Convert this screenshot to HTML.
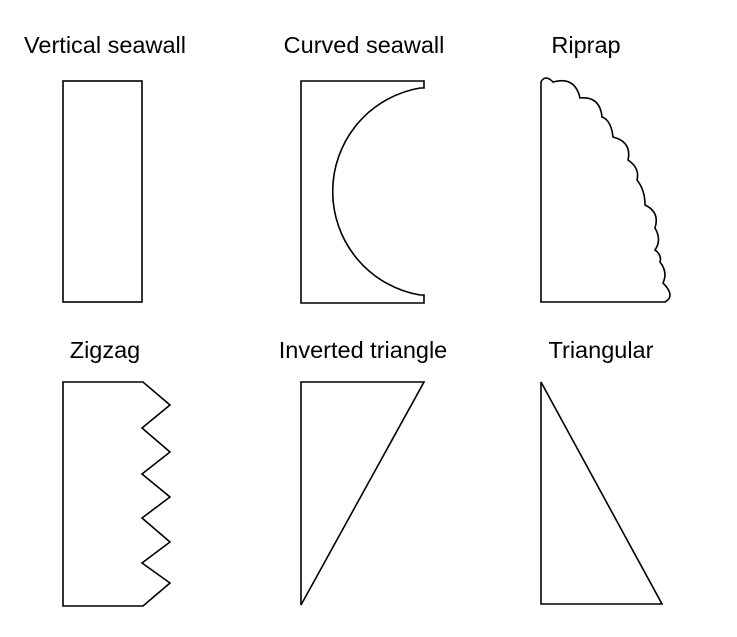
<!DOCTYPE html>
<html><head><style>
html,body{margin:0;padding:0;background:#fff;}
svg{display:block;}
text{font-family:"Liberation Sans",Arial,sans-serif;font-size:23.5px;fill:#000;text-anchor:middle;}
</style></head><body>
<svg width="737" height="637" viewBox="0 0 737 637" xmlns="http://www.w3.org/2000/svg">
<g fill="none" stroke="#000" stroke-width="1.6" stroke-linejoin="miter">
<rect x="63" y="81" width="79" height="221"/>
<path d="M301,81 H424 V88 H420 A105,105 0 0 0 420,295 H424 V303 H301 Z"/>
<path d="M541,302 V82 Q545,74 553,82 Q575,76 580,98 Q600,96 602,117 Q611,120 613,137 Q632,142 628,160 Q640,168 637,180 Q645,190 645,205 Q660,212 655,228 Q662,240 655,250 Q662,255 660,262 Q668,272 663,283 Q676,296 665,302 Z"/>
<path d="M63,382 H143 L170,405 L142,428 L170,452 L142,474 L170,497 L142,518 L170,542 L142,563 L170,583 L143,606 H63 Z"/>
<path d="M301,382 H424 L301,605 Z"/>
<path d="M541,382 L662,604 H541 Z"/>
</g>
<text x="105" y="53">Vertical seawall</text>
<text x="364" y="53">Curved seawall</text>
<text x="586" y="53">Riprap</text>
<text x="105" y="358">Zigzag</text>
<text x="363" y="358">Inverted triangle</text>
<text x="601" y="358">Triangular</text>
</svg>
</body></html>
